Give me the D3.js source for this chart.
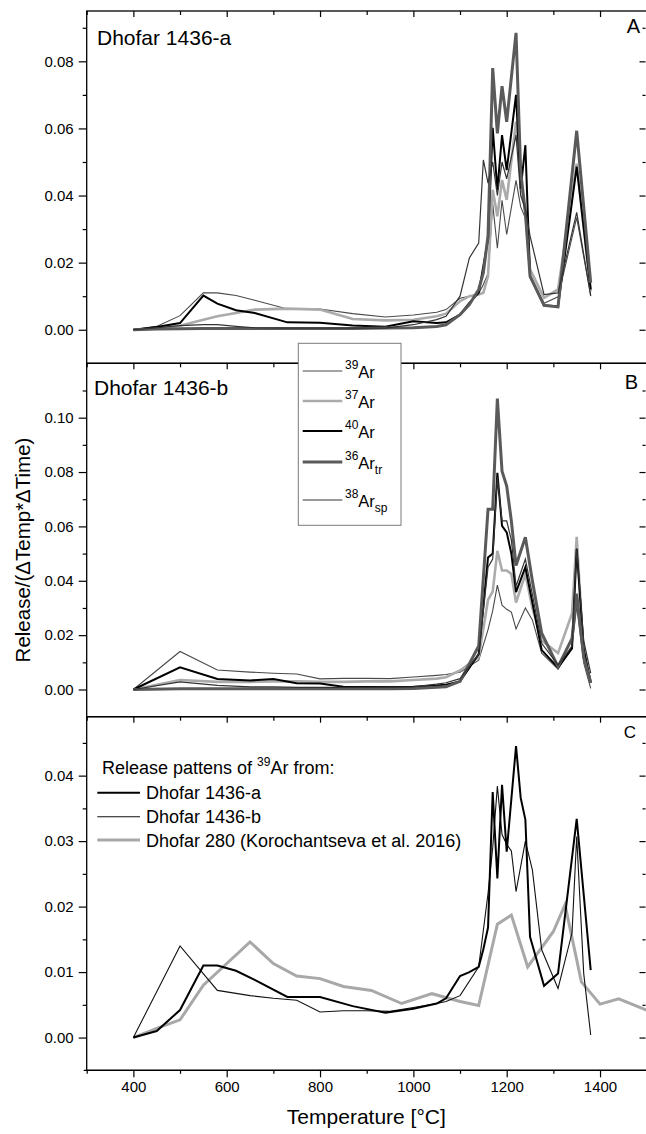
<!DOCTYPE html>
<html>
<head>
<meta charset="utf-8">
<script src="https://cdn.jsdelivr.net/npm/d3@7"></script>
<style>
    body { margin: 0; background: #fff; }
    svg { display: block; }
    text { font-family: "Liberation Sans", Arial, sans-serif; fill: #000; }
</style>
</head>
<body>
<div id="chart"></div>
<script>
// step temperatures (deg C) for each sample
const tempA = [400, 450, 500, 550, 580, 620, 660, 730, 800, 870, 940, 1000, 1050, 1070, 1100, 1120, 1140, 1150,
    1160, 1170, 1180, 1190, 1200, 1220, 1230, 1240, 1250, 1280, 1310, 1350, 1380];
const tempB = [400, 500, 580, 650, 700, 750, 800, 850, 900, 950, 1000, 1050, 1070, 1100, 1140,
    1160, 1170, 1180, 1190, 1200, 1210, 1220, 1240, 1255, 1275, 1310, 1340, 1350, 1365, 1380];
const temp280 = [400, 450, 500, 550, 650, 700, 750, 800, 850, 910, 975, 1040, 1100, 1140, 1180, 1210,
    1245, 1300, 1325, 1360, 1400, 1440, 1500];

// Dhofar 1436-a release rates
const ar39A = [0, 0.001, 0.0042, 0.011, 0.011, 0.0102, 0.0088, 0.0062, 0.0062, 0.0048, 0.0038, 0.0044, 0.0052, 0.006,
    0.0094, 0.0100, 0.0108, 0.0135, 0.0168, 0.0375, 0.0243, 0.0386, 0.0284, 0.0445, 0.0366, 0.0333, 0.0154, 0.0079,
    0.0098, 0.0334, 0.0103];
const ar37A = [0, 0.0004, 0.0012, 0.003, 0.004, 0.005, 0.006, 0.0063, 0.006, 0.0032, 0.0028, 0.003, 0.004, 0.0048,
    0.0085, 0.0100, 0.0105, 0.011, 0.016, 0.0417, 0.0338, 0.0446, 0.0387, 0.062, 0.045, 0.035, 0.018, 0.0095,
    0.012, 0.0495, 0.0115];
const ar40A = [0, 0.0008, 0.002, 0.0102, 0.0078, 0.0058, 0.005, 0.0022, 0.0021, 0.0013, 0.0009, 0.0025, 0.002, 0.0022,
    0.0045, 0.008, 0.011, 0.019, 0.027, 0.0602, 0.0417, 0.058, 0.0476, 0.070, 0.042, 0.055, 0.016, 0.0072,
    0.007, 0.0486, 0.012];
const ar36A = [0, 0.0002, 0.0003, 0.0004, 0.0004, 0.0004, 0.0004, 0.0004, 0.0004, 0.0004, 0.0005, 0.0006, 0.001, 0.0015,
    0.0045, 0.0075, 0.012, 0.017, 0.028, 0.078, 0.0585, 0.0726, 0.062, 0.0885, 0.047, 0.035, 0.016, 0.0073,
    0.0068, 0.0593, 0.014];
const ar38A = [0, 0.0006, 0.0012, 0.0015, 0.0015, 0.001, 0.0006, 0.0005, 0.0005, 0.0005, 0.0005, 0.0015, 0.003, 0.004,
    0.01, 0.0214, 0.0258, 0.0506, 0.0437, 0.05, 0.04, 0.05, 0.045, 0.058, 0.04, 0.036, 0.028, 0.0105,
    0.011, 0.035, 0.010];

// Dhofar 1436-b release rates
const ar39B = [0, 0.014, 0.0072, 0.0064, 0.006, 0.0057, 0.0039, 0.0041, 0.0041, 0.004, 0.0046, 0.0052, 0.0055, 0.0064,
    0.0108, 0.022, 0.029, 0.0384, 0.031, 0.0295, 0.0285, 0.0223, 0.030, 0.0256, 0.0134, 0.0075, 0.016, 0.0307,
    0.0098, 0.0004];
const ar37B = [0, 0.0035, 0.0028, 0.0028, 0.003, 0.003, 0.0028, 0.0028, 0.003, 0.003, 0.0035, 0.004, 0.0045, 0.007,
    0.012, 0.033, 0.036, 0.051, 0.0438, 0.0438, 0.0425, 0.032, 0.0425, 0.03, 0.018, 0.0134, 0.028, 0.0562,
    0.012, 0.003];
const ar40B = [0, 0.0082, 0.0039, 0.0033, 0.0039, 0.0023, 0.0022, 0.001, 0.0009, 0.0009, 0.001, 0.0015, 0.0018, 0.003,
    0.013, 0.0486, 0.050, 0.0797, 0.0602, 0.0578, 0.05, 0.0358, 0.045, 0.032, 0.0145, 0.008, 0.0151, 0.0517,
    0.015, 0.0025];
const ar36B = [0, 0.0003, 0.0003, 0.0003, 0.0003, 0.0003, 0.0003, 0.0003, 0.0003, 0.0003, 0.0004, 0.0008, 0.001, 0.003,
    0.016, 0.0663, 0.0663, 0.107, 0.0803, 0.0748, 0.062, 0.0456, 0.056, 0.04, 0.0207, 0.0084, 0.0188, 0.0353,
    0.012, 0.0024];
const ar38B = [0, 0.0028, 0.0015, 0.001, 0.001, 0.0008, 0.0008, 0.0008, 0.0008, 0.0009, 0.001, 0.002, 0.0025, 0.004,
    0.013, 0.045, 0.048, 0.078, 0.062, 0.062, 0.055, 0.038, 0.048, 0.035, 0.017, 0.009, 0.016, 0.052,
    0.018, 0.006];

// Dhofar 280 (Korochantseva et al. 2016), 39Ar
const ar39Dh280 = [0, 0.0014, 0.0027, 0.008, 0.0146, 0.0113, 0.0094, 0.009, 0.0078, 0.0072, 0.0052, 0.0067, 0.0055,
    0.0049, 0.0173, 0.0187, 0.0108, 0.0162, 0.0203, 0.0085, 0.0051, 0.0059, 0.0042];

const isotopeKeys = ['39', '37', '40', '36', '38'];
const isotopeSubs = ['', '', '', 'tr', 'sp'];
const seriesA = [ar39A, ar37A, ar40A, ar36A, ar38A];
const seriesB = [ar39B, ar37B, ar40B, ar36B, ar38B];

const width = 646;
const height = 1134;

const isoStyle = {
    '39': { color: '#4a4a4a', w: 1.1 },
    '37': { color: '#ababab', w: 2.6 },
    '40': { color: '#000000', w: 2.0 },
    '36': { color: '#5a5a5a', w: 3.0 },
    '38': { color: '#333333', w: 1.2 }
};

const svg = d3.select('#chart').append('svg')
    .attr('width', width)
    .attr('height', height)
    .attr('viewBox', `0 0 ${width} ${height}`);

const x = d3.scaleLinear().domain([300, 1500]).range([86.7, 646.7]);

const panels = [
    { letter: 'A', name: 'Dhofar 1436-a', top: 11, bottom: 363.3, domain: [-0.01, 0.095], major: 0.02, minor: 0.01, fmt: '.2f' },
    { letter: 'B', name: 'Dhofar 1436-b', top: 363.3, bottom: 716.7, domain: [-0.01, 0.12], major: 0.02, minor: 0.01, fmt: '.2f' },
    { letter: 'C', name: null, top: 716.7, bottom: 1070.3, domain: [-0.005, 0.049], major: 0.01, minor: 0.005, fmt: '.2f' }
];

function ticksIn(lo, hi, step, offset) {
    const out = [];
    for (let k = Math.ceil((lo - offset) / step - 1e-9); offset + k * step <= hi + 1e-9; k++) {
        out.push(+(offset + k * step).toFixed(4));
    }
    return out;
}

function drawAxes(p, y) {
    const g = svg.append('g').attr('class', 'axes');
    const [lo, hi] = p.domain;
    // ticks strictly inside the frame
    const majorY = ticksIn(lo + 1e-6, hi - 1e-6, p.major, 0);
    const minorY = ticksIn(lo + 1e-6, hi - 1e-6, p.major, p.minor);

    // left axis, ticks outward
    g.append('g').attr('transform', `translate(${x.range()[0]},0)`)
        .call(d3.axisLeft(y).tickValues(majorY).tickSize(8).tickPadding(5).tickFormat(d3.format(p.fmt)))
        .call(a => a.select('.domain').remove());
    g.append('g').attr('transform', `translate(${x.range()[0]},0)`)
        .call(d3.axisLeft(y).tickValues(minorY).tickSize(4).tickFormat(''))
        .call(a => a.select('.domain').remove());

    // right axis, ticks inward
    g.append('g').attr('transform', `translate(${width - 0.5},0)`)
        .call(d3.axisRight(y).tickValues(majorY).tickSize(-6).tickFormat(''))
        .call(a => a.select('.domain').remove());
    g.append('g').attr('transform', `translate(${width - 0.5},0)`)
        .call(d3.axisRight(y).tickValues(minorY).tickSize(-3).tickFormat(''))
        .call(a => a.select('.domain').remove());

    // top axis, ticks inward
    g.append('g').attr('transform', `translate(0,${p.top})`)
        .call(d3.axisTop(x).tickValues(d3.range(400, 1500, 200)).tickSize(-6).tickFormat(''))
        .call(a => a.select('.domain').remove());
    g.append('g').attr('transform', `translate(0,${p.top})`)
        .call(d3.axisTop(x).tickValues(d3.range(300, 1501, 200)).tickSize(-4).tickFormat(''))
        .call(a => a.select('.domain').remove());

    g.selectAll('.tick line').attr('stroke', '#000').attr('stroke-width', 1.2);
    g.selectAll('.tick text').attr('font-size', 15).attr('font-family', '"Liberation Sans", Arial, sans-serif');

    // frame
    g.append('rect')
        .attr('x', x.range()[0]).attr('y', p.top)
        .attr('width', x.range()[1] - x.range()[0]).attr('height', p.bottom - p.top)
        .attr('fill', 'none').attr('stroke', '#000').attr('stroke-width', 1.3);
}

function drawLines(temps, values, y, style) {
    const line = d3.line()
        .x((d, i) => x(temps[i]))
        .y(d => y(d));
    svg.append('path')
        .datum(values)
        .attr('fill', 'none')
        .attr('stroke', style.color)
        .attr('stroke-width', style.w)
        .attr('stroke-linejoin', 'miter')
        .attr('d', line);
}

const yScales = panels.map(p => d3.scaleLinear().domain(p.domain).range([p.bottom, p.top]));

// panel A and B: five isotopes each
isotopeKeys.forEach((k, i) => drawLines(tempA, seriesA[i], yScales[0], isoStyle[k]));
isotopeKeys.forEach((k, i) => drawLines(tempB, seriesB[i], yScales[1], isoStyle[k]));

// panel C: 39Ar comparison
const styleC = [
    { color: '#000', w: 2.0 },
    { color: '#111', w: 1.1 },
    { color: '#a8a8a8', w: 3.0 }
];
drawLines(temp280, ar39Dh280, yScales[2], styleC[2]);
drawLines(tempB, ar39B, yScales[2], styleC[1]);
drawLines(tempA, ar39A, yScales[2], styleC[0]);

panels.forEach((p, i) => drawAxes(p, yScales[i]));

// bottom axis of panel C
const bottomAxis = svg.append('g').attr('transform', `translate(0,${panels[2].bottom})`);
bottomAxis.append('g')
    .call(d3.axisBottom(x).tickValues(d3.range(400, 1500, 200)).tickSize(7).tickPadding(4).tickFormat(d3.format('d')))
    .call(a => a.select('.domain').remove());
bottomAxis.append('g')
    .call(d3.axisBottom(x).tickValues(d3.range(300, 1501, 200)).tickSize(3.5).tickFormat(''))
    .call(a => a.select('.domain').remove());
bottomAxis.append('line')
    .attr('x1', x.range()[0] - 3).attr('x2', width)
    .attr('stroke', '#000').attr('stroke-width', 1.3);
bottomAxis.selectAll('.tick line').attr('stroke', '#000').attr('stroke-width', 1.2);
bottomAxis.selectAll('.tick text').attr('font-size', 15).attr('font-family', '"Liberation Sans", Arial, sans-serif');

// panel titles and letters
svg.append('text').attr('x', 97).attr('y', 45).attr('font-size', 21).text(panels[0].name);
svg.append('text').attr('x', 94).attr('y', 395).attr('font-size', 21).text(panels[1].name);
svg.append('text').attr('x', 640).attr('y', 33).attr('text-anchor', 'end').attr('font-size', 20).text('A');
svg.append('text').attr('x', 638).attr('y', 389).attr('text-anchor', 'end').attr('font-size', 20).text('B');
svg.append('text').attr('x', 636).attr('y', 738).attr('text-anchor', 'end').attr('font-size', 17).text('C');

// axis titles
svg.append('text')
    .attr('x', (x.range()[0] + width) / 2).attr('y', 1124)
    .attr('text-anchor', 'middle').attr('font-size', 21)
    .text('Temperature [°C]');
svg.append('text')
    .attr('transform', 'translate(30,550) rotate(-90)')
    .attr('text-anchor', 'middle').attr('font-size', 20.5)
    .text('Release/(\u0394Temp*\u0394Time)');

// isotope legend (drawn over the A/B boundary)
const legend = svg.append('g');
legend.append('rect')
    .attr('x', 298.3).attr('y', 343.3).attr('width', 102.7).attr('height', 182)
    .attr('fill', '#fff').attr('stroke', '#7a7a7a').attr('stroke-width', 1);
const legendY = [371, 401, 431, 462, 500];
isotopeKeys.forEach((k, i) => {
    const st = isoStyle[k];
    legend.append('line')
        .attr('x1', 302.7).attr('x2', 342.3)
        .attr('y1', legendY[i]).attr('y2', legendY[i])
        .attr('stroke', st.color).attr('stroke-width', st.w);
    const t = legend.append('text').attr('x', 345).attr('y', legendY[i] + 6.5).attr('font-size', 16.5);
    t.append('tspan').attr('font-size', 12).attr('dy', -9).text(k);
    t.append('tspan').attr('dy', 9).text('Ar');
    if (isotopeSubs[i]) t.append('tspan').attr('font-size', 12).attr('dy', 5).text(isotopeSubs[i]);
});

// sample legend in panel C
const legC = svg.append('g');
const headC = legC.append('text').attr('x', 102).attr('y', 774).attr('font-size', 18);
headC.append('tspan').text('Release pattens of ');
headC.append('tspan').attr('font-size', 12).attr('dy', -8).text('39');
headC.append('tspan').attr('dy', 8).text('Ar from:');
const namesC = ['Dhofar 1436-a', 'Dhofar 1436-b', 'Dhofar 280 (Korochantseva et al. 2016)'];
const legCY = [792.7, 816.7, 840];
namesC.forEach((n, i) => {
    legC.append('line')
        .attr('x1', 97.3).attr('x2', 140)
        .attr('y1', legCY[i]).attr('y2', legCY[i])
        .attr('stroke', styleC[i].color).attr('stroke-width', styleC[i].w);
    legC.append('text').attr('x', 146).attr('y', legCY[i] + 6.5).attr('font-size', 18).text(n);
});
</script>
</body>
</html>
